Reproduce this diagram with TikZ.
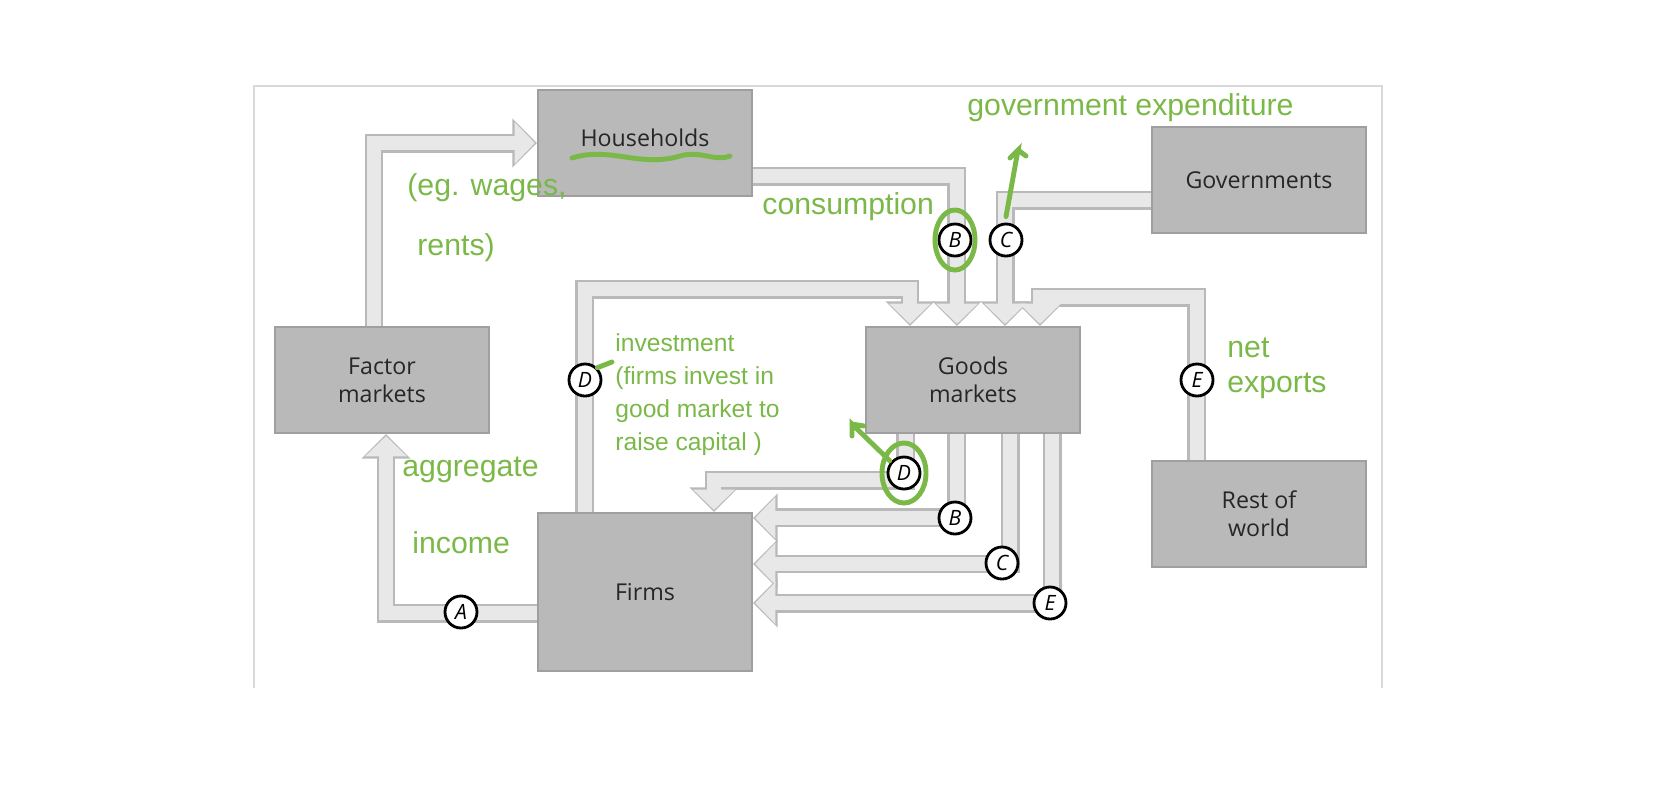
\documentclass[tikz,border=0pt]{standalone}
\usepackage{fontspec}
\setmainfont{Open Sans}
\newfontfamily\handfont{Liberation Sans}
\usetikzlibrary{arrows.meta, positioning}
\definecolor{marker}{RGB}{122,184,72}

\begin{document}
\begin{tikzpicture}[
    x=0.01cm, y=-0.01cm,
    box/.style = {rectangle, draw=gray!75, line width=0.6pt, fill=gray!55,
                  minimum width=2.14cm, minimum height=1.06cm, align=center,
                  font=\fontsize{6.6}{8}\selectfont, text=black!85},
    bandout/.style = {draw=gray!55, line width=5.4pt, line join=miter,
                  -{Triangle[length=7pt,width=13.6pt]}},
    bandin/.style = {draw=gray!18, line width=4.2pt, line join=miter,
                  -{Triangle[length=5.8pt,width=11.6pt]}, shorten >=0.55pt},
    tag/.style = {circle, draw=black, line width=0.8pt, fill=white,
                  inner sep=0pt, minimum size=0.32cm,
                  font=\fontsize{6}{7}\selectfont\itshape},
    note/.style = {text=marker, font=\handfont\fontsize{8.6}{10}\selectfont,
                   anchor=west, align=left},
    pen/.style = {draw=marker, line width=1.4pt, line cap=round}]
  \useasboundingbox (0,0) rectangle (1668,805);
  % frame
  \draw[gray!30, line width=0.6pt] (254,688) -- (254,86) -- (1382,86) -- (1382,688);

  % boxes
  \node (hh)    [box] at (645,143)  {\raisebox{0.1cm}{Households}};
  \node (gov)   [box] at (1259,180) {Governments};
  \node (fac)   [box] at (382,380)  {Factor\\markets};
  \node (goods) [box] at (973,380)  {Goods\\markets};
  \node (row)   [box] at (1259,514) {Rest of\\world};
  \node (firms) [box, minimum height=1.58cm] at (645,592) {Firms};

  % bend points
  \coordinate (eTop) at (1040,297);
  \coordinate (dTop) at (910,289);
  \coordinate (dBot) at (714,480);

  % flows
  \foreach \s in {bandout, bandin} {
    \draw[\s] ([xshift=-0.08cm]fac.north) |- (hh.west);
    \draw[\s] ([yshift=-0.33cm]hh.east) -| ([xshift=-0.16cm]goods.north);
    \draw[\s] ([yshift=-0.2cm]gov.west) -| ([xshift=0.32cm]goods.north);
    \draw[\s] ([xshift=-0.62cm]row.north) |- (eTop) -- (eTop |- goods.north);
    \draw[\s] ([xshift=-0.6cm]firms.north) |- (dTop) -- (dTop |- goods.north);
    \draw[\s] ([xshift=-0.67cm]goods.south) |- (dBot) -- (dBot |- firms.north);
    \draw[\s] ([xshift=-0.16cm]goods.south) |- ([yshift=0.74cm]firms.east);
    \draw[\s] ([xshift=0.37cm]goods.south) |- ([yshift=0.28cm]firms.east);
    \draw[\s] ([xshift=0.79cm]goods.south) |- ([yshift=-0.11cm]firms.east);
    \draw[\s] ([yshift=-0.21cm]firms.west) -| ([xshift=0.04cm]fac.south);
  }

  % letters
  \node (tA)  [tag] at (461,612)  {A};
  \node (tB1) [tag] at (955,240)  {B};
  \node (tC1) [tag] at (1006,240) {C};
  \node (tD1) [tag] at (585,380)  {D};
  \node (tE1) [tag] at (1197,380) {E};
  \node (tD2) [tag] at (904,473)  {D};
  \node (tB2) [tag] at (955,518)  {B};
  \node (tC2) [tag] at (1002,563) {C};
  \node (tE2) [tag] at (1050,603) {E};

  % handwritten notes
  \node (nGov)  [note] at (955,108) {government expenditure};
  \node (nCons) [note] at (750,207) {consumption};
  \node (nWage) [note] at (395,188) {(eg. wages,};
  \node (nRent) [note] at (405,248) {rents)};
  \node (nInv)  [note, font=\handfont\fontsize{7}{9.4}\selectfont] at (603,395)
        {investment\\(firms invest in\\good market to\\raise capital )};
  \node (nAgg)  [note] at (390,470) {aggregate};
  \node (nInc)  [note] at (400,543) {income};
  \node (nNet)  [note] at (1215,368) {net\\exports};
  \draw[pen] ([yshift=0.06cm]tC1.north) -- (1018,150) -- ++(-8,8) (1018,150) -- ++(8,6);
  \draw[pen] ([xshift=-0.02cm]tD2.north west) -- (852,424) -- ++(0,12) (852,424) -- ++(12,2);
  \draw[pen] (tD1.north east) -- (612,362);
  \draw[pen] (tB1) ellipse (0.2cm and 0.3cm);
  \draw[pen] (tD2) ellipse (0.22cm and 0.3cm);
  \draw[pen] (572,158) .. controls (610,146) and (640,168) .. (680,156)
                       .. controls (700,150) and (715,162) .. (730,156);
\end{tikzpicture}
\end{document}
